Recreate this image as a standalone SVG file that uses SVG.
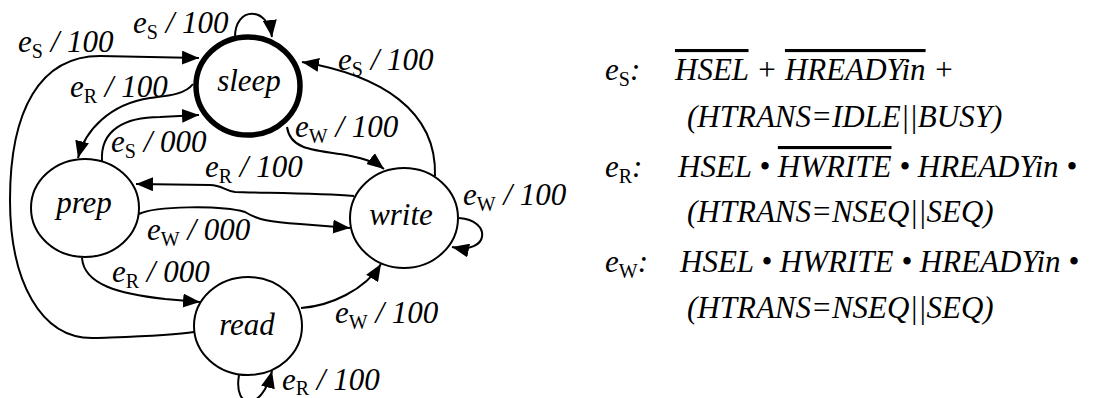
<svg xmlns="http://www.w3.org/2000/svg" width="1114" height="398" viewBox="0 0 1114 398">
  <style>
    text { font-family: "Liberation Serif", "DejaVu Serif", "Times New Roman", serif; font-style: italic; font-size: 31px; fill: #000; }
    .sub { font-size: 20px; font-style: normal; }
    .node ellipse { fill: #fff; stroke: #000; stroke-width: 2; }
    #sleep ellipse { stroke-width: 5.5; }
    .node text { text-anchor: middle; }
    .edge { fill: none; stroke: #000; stroke-width: 2; marker-end: url(#ah); }
    .ov { text-decoration: overline; }
  </style>
  <defs>
    <marker id="ah" markerUnits="userSpaceOnUse" markerWidth="18" markerHeight="14" refX="17" refY="7" orient="auto">
      <path d="M0,0 L17,7 L0,14 z" fill="#000"/>
    </marker>
  </defs>
  <rect width="1114" height="398" fill="#fff"/>

  <!-- states -->
  <g id="sleep" class="node">
    <ellipse cx="248" cy="86" rx="52" ry="49"/>
    <text x="249" y="91">sleep</text>
  </g>
  <g id="prep" class="node">
    <ellipse cx="85" cy="208" rx="54" ry="49"/>
    <text x="84" y="213">prep</text>
  </g>
  <g id="write" class="node">
    <ellipse cx="404" cy="218" rx="54" ry="50"/>
    <text x="401" y="225">write</text>
  </g>
  <g id="read" class="node">
    <ellipse cx="248" cy="326" rx="54" ry="49"/>
    <text x="247" y="335">read</text>
  </g>

  <!-- transitions -->
  <g id="edges">
    <path class="edge" d="M235 37 C235 6 268 6 272 37"/>
    <path class="edge" d="M194 332 C170 336 120 337 95 338 C40 340 10 280 10 200 C10 110 40 56 100 56 L199 58"/>
    <path class="edge" d="M193 84 C185 95 165 96 150 98 C110 104 85 130 78 158"/>
    <path class="edge" d="M102 161 C100 130 125 117 160 117 L199 115"/>
    <path class="edge" d="M287 127 C290 148 310 150 340 154 C360 157 375 162 384 169"/>
    <path class="edge" d="M435 176 C437 110 380 75 302 62"/>
    <path class="edge" d="M354 196 C320 193 260 193 235 192 C225 191 222 185 210 185 L136 184"/>
    <path class="edge" d="M139 214 C155 206 220 205 245 212 C258 220 270 222 300 224 L350 228"/>
    <path class="edge" d="M82 258 C84 285 120 294 165 299 L200 302"/>
    <path class="edge" d="M301 308 C330 306 365 290 381 264"/>
    <path class="edge" d="M459 218 C492 220 490 255 452 247"/>
    <path class="edge" d="M239 375 C233 410 262 412 272 371"/>
  </g>

  <!-- transition labels -->
  <g id="labels">
    <text x="133" y="33">e<tspan class="sub" dy="6">S</tspan><tspan dy="-6"> / 100</tspan></text>
    <text x="18" y="52">e<tspan class="sub" dy="6">S</tspan><tspan dy="-6"> / 100</tspan></text>
    <text x="70" y="97">e<tspan class="sub" dy="6">R</tspan><tspan dy="-6"> / 100</tspan></text>
    <text x="111" y="152">e<tspan class="sub" dy="6">S</tspan><tspan dy="-6"> / 000</tspan></text>
    <text x="295" y="137">e<tspan class="sub" dy="6">W</tspan><tspan dy="-6"> / 100</tspan></text>
    <text x="338" y="70">e<tspan class="sub" dy="6">S</tspan><tspan dy="-6"> / 100</tspan></text>
    <text x="205" y="177">e<tspan class="sub" dy="6">R</tspan><tspan dy="-6"> / 100</tspan></text>
    <text x="147" y="240">e<tspan class="sub" dy="6">W</tspan><tspan dy="-6"> / 000</tspan></text>
    <text x="112" y="282">e<tspan class="sub" dy="6">R</tspan><tspan dy="-6"> / 000</tspan></text>
    <text x="335" y="323">e<tspan class="sub" dy="6">W</tspan><tspan dy="-6"> / 100</tspan></text>
    <text x="463" y="205">e<tspan class="sub" dy="6">W</tspan><tspan dy="-6"> / 100</tspan></text>
    <text x="282" y="390">e<tspan class="sub" dy="5">R</tspan><tspan dy="-5"> / 100</tspan></text>
  </g>

  <!-- event definitions -->
  <g id="legend">
    <text x="605" y="80">e<tspan class="sub" dy="6">S</tspan><tspan dy="-6">:</tspan></text>
    <text x="675" y="80"><tspan class="ov">HSEL</tspan> + <tspan class="ov">HREADYin</tspan> +</text>
    <text x="687" y="127">(HTRANS=IDLE||BUSY)</text>
    <text x="605" y="177">e<tspan class="sub" dy="6">R</tspan><tspan dy="-6">:</tspan></text>
    <text x="678" y="177">HSEL • <tspan class="ov">HWRITE</tspan> • HREADYin •</text>
    <text x="687" y="222">(HTRANS=NSEQ||SEQ)</text>
    <text x="605" y="272">e<tspan class="sub" dy="6">W</tspan><tspan dy="-6">:</tspan></text>
    <text x="680" y="272">HSEL • HWRITE • HREADYin •</text>
    <text x="687" y="318">(HTRANS=NSEQ||SEQ)</text>
  </g>
</svg>
